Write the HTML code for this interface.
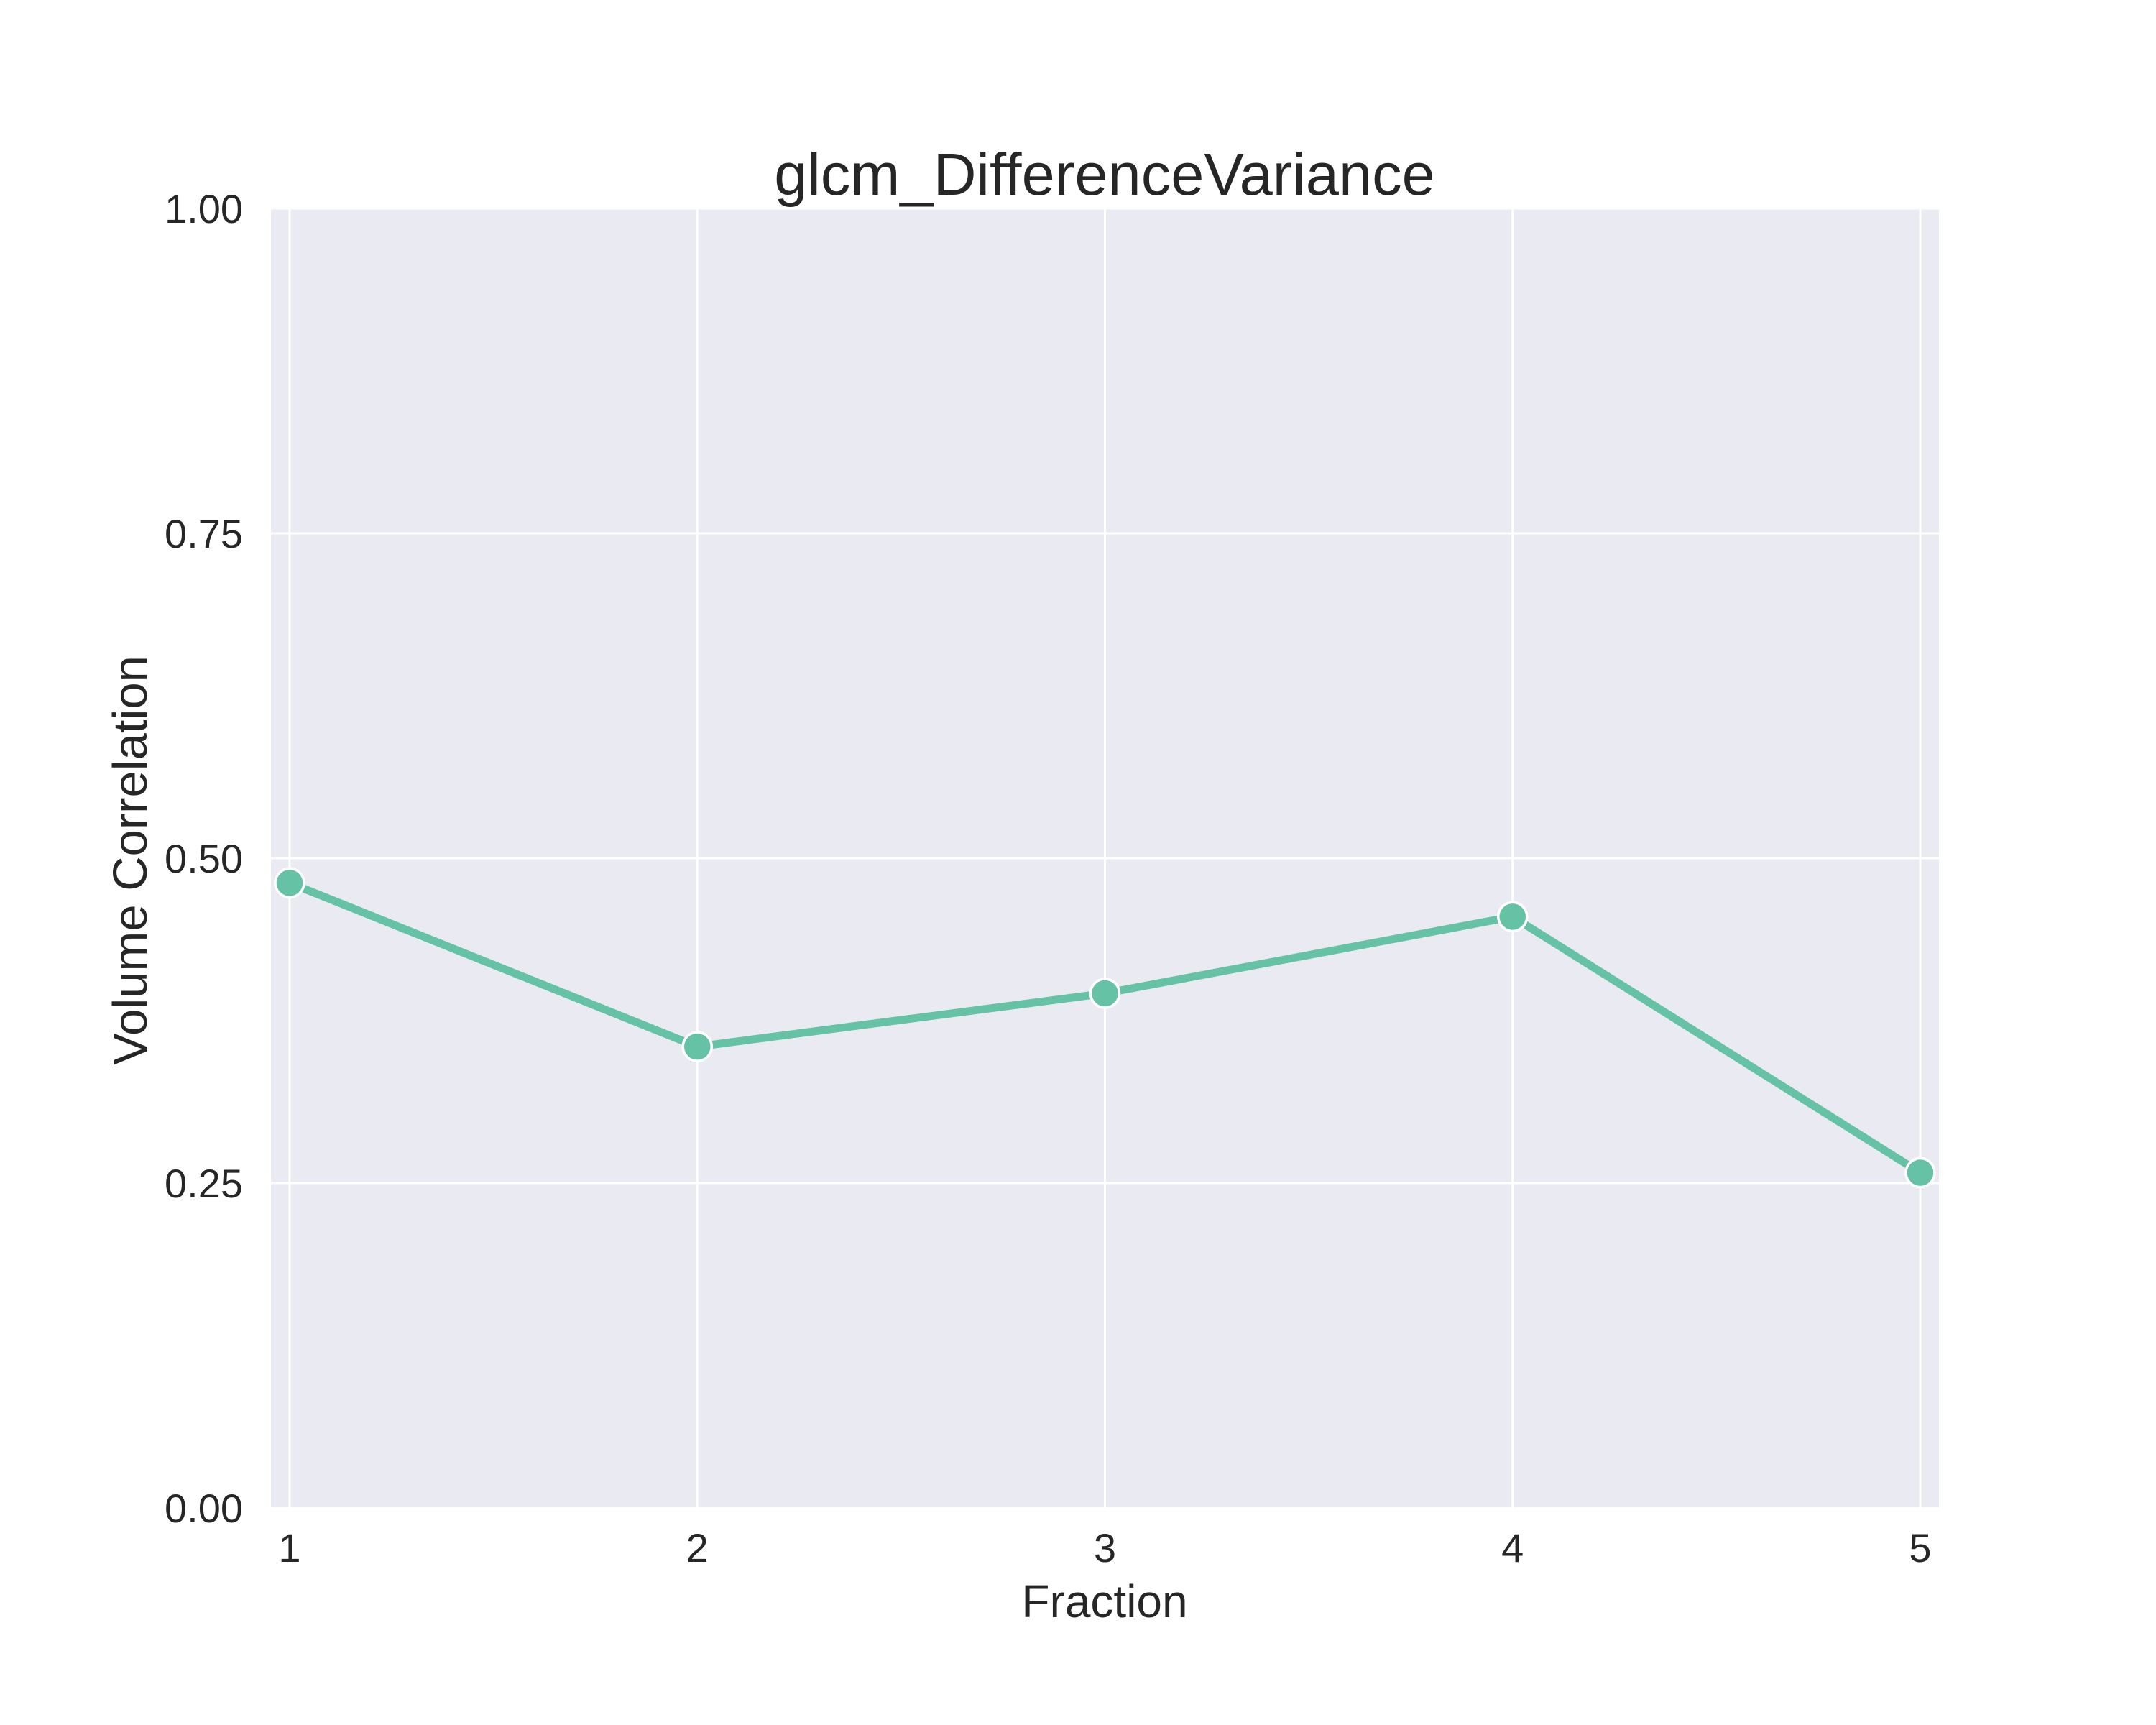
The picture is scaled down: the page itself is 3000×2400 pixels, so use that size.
<!DOCTYPE html>
<html><head><meta charset="utf-8"><style>
html,body{margin:0;padding:0;background:#fff;}
svg{display:block;font-family:"Liberation Sans",Arial,sans-serif;}
</style></head><body>
<svg id="chart" width="3000" height="2400" xmlns="http://www.w3.org/2000/svg">
<rect x="377" y="290" width="2321" height="1808" fill="#eaeaf2"/>
<g id="grid"></g>
<g id="series"></g>
<g id="ticks" fill="#262626" font-size="56"></g>
<text x="1537" y="271" text-anchor="middle" font-size="83" fill="#262626">glcm_DifferenceVariance</text>
<text x="1537" y="2250" text-anchor="middle" font-size="64" fill="#262626">Fraction</text>
<text transform="translate(204,1197) rotate(-90)" text-anchor="middle" font-size="67" fill="#262626">Volume Correlation</text>
</svg>
<script>
const categories = [1, 2, 3, 4, 5];
const values = [0.481, 0.355, 0.396, 0.455, 0.258];
const yTicks = [0, 0.25, 0.5, 0.75, 1.0];
const yTickLabels = ["0.00", "0.25", "0.50", "0.75", "1.00"];
const xTickLabels = ["1", "2", "3", "4", "5"];

const NS = "http://www.w3.org/2000/svg";
function xs(v){ return 403 + (v - 1) * (2672 - 403) / 4; }
function ys(v){ return 2098 - v * 1808; }
function mk(tag, attrs, parent){
  const e = document.createElementNS(NS, tag);
  for (const k in attrs) e.setAttribute(k, attrs[k]);
  parent.appendChild(e);
  return e;
}
const grid = document.getElementById('grid');
const ticks = document.getElementById('ticks');
const series = document.getElementById('series');
yTicks.forEach((t, i) => {
  const l = mk('line', {x1:377, x2:2698, y1:ys(t), y2:ys(t), stroke:'#fff', 'stroke-width':3}, grid);
  
  
  const tx = mk('text', {x:338, y:ys(t)+20, 'text-anchor':'end'}, ticks);
  tx.textContent = yTickLabels[i];
  
  
});
categories.forEach((c, i) => {
  const l = mk('line', {x1:xs(c), x2:xs(c), y1:290, y2:2098, stroke:'#fff', 'stroke-width':3}, grid);
  
  
  const tx = mk('text', {x:xs(c), y:2173, 'text-anchor':'middle'}, ticks);
  tx.textContent = xTickLabels[i];
  
  
});
const pts = categories.map((c, i) => xs(c) + ',' + ys(values[i])).join(' ');
const line = mk('polyline', {points:pts, fill:'none', stroke:'#66c2a5', 'stroke-width':11, 'stroke-linejoin':'round', 'stroke-linecap':'round'}, series);


categories.forEach((c, i) => {
  const p = mk('circle', {cx:xs(c), cy:ys(values[i]), r:20, fill:'#66c2a5', stroke:'#fff', 'stroke-width':3.5}, series);
  
  
});
</script>
</body></html>
